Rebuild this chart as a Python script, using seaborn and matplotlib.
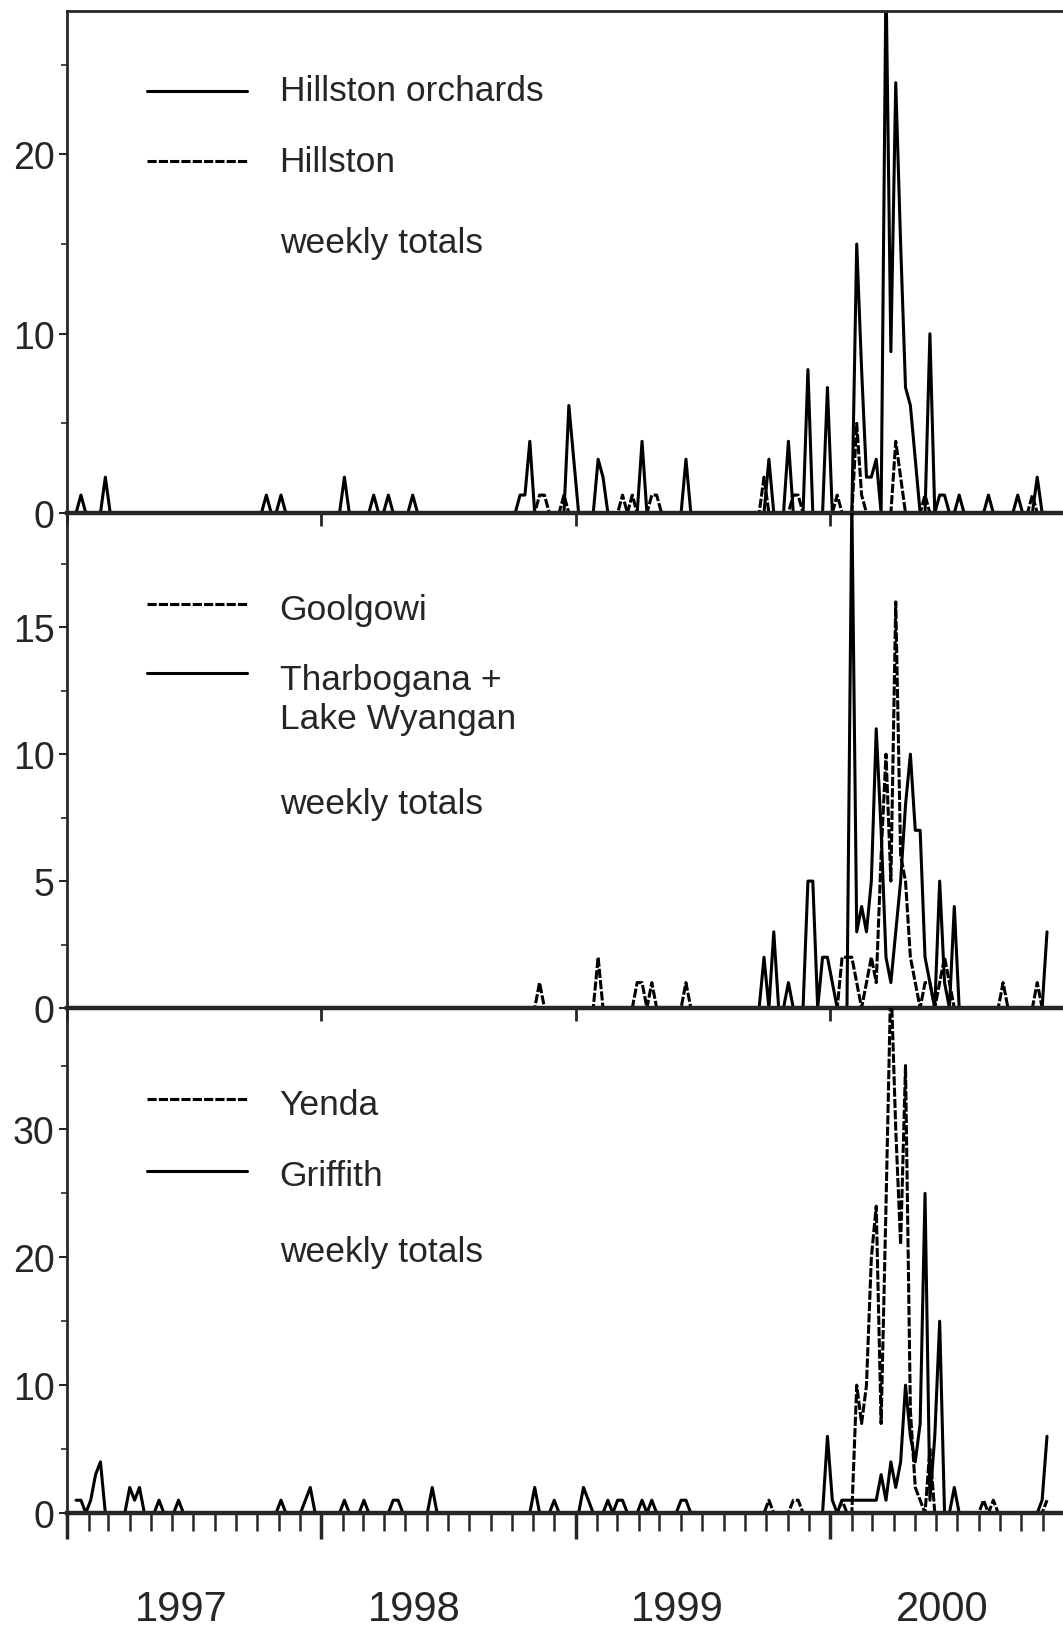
import numpy as np
import pandas as pd
import matplotlib
matplotlib.use("Agg")
import matplotlib.pyplot as plt
import matplotlib.dates as mdates
from matplotlib.ticker import MultipleLocator, NullFormatter, NullLocator
import seaborn as sns

sns.set_style("ticks")
plt.rcParams["font.family"] = ["Liberation Sans", "DejaVu Sans"]

# ---------------- data: weekly totals (sparse: week number -> count) ----------------
week_start = pd.Timestamp("1997-01-07")
n_weeks = 200

hillston_orch_wk = [2, 7, 40, 43, 56, 62, 65, 70, 92, 93, 94, 102, 103, 108, 109, 117, 126,
                    143, 147, 151, 155, 161, 162, 163, 164, 165, 167, 168, 169, 170, 171, 172, 173,
                    176, 178, 179, 182, 188, 194, 198]
hillston_orch_n = [1, 2, 1, 1, 2, 1, 1, 1, 1, 1, 4, 6, 3, 3, 2, 4, 3,
                   3, 4, 8, 7, 15, 8, 2, 2, 3, 30, 9, 24, 15, 7, 6, 3,
                   10, 1, 1, 1, 1, 1, 2]
hillston_wk = [96, 97, 101, 113, 115, 119, 120, 142, 148, 149, 157, 161, 162, 169, 170, 175, 197]
hillston_n = [1, 1, 1, 1, 1, 1, 1, 2, 1, 1, 1, 5, 1, 4, 2, 1, 1]

goolgowi_wk = [96, 108, 116, 117, 119, 126, 158, 159, 160, 161, 163, 164, 165, 166, 167, 168,
               169, 170, 171, 172, 173, 175, 176, 178, 179, 180, 191, 198]
goolgowi_n = [1, 2, 1, 1, 1, 1, 2, 2, 2, 1, 1, 2, 1, 6, 10, 5,
              16, 6, 5, 2, 1, 1, 1, 1, 2, 1, 1, 1]
tharbogana_wk = [142, 144, 147, 151, 152, 154, 155, 156, 160, 161, 162, 163, 164, 165, 166, 167,
                 168, 169, 170, 171, 172, 173, 174, 175, 176, 178, 179, 181, 200]
tharbogana_n = [2, 3, 1, 5, 5, 2, 2, 1, 20, 3, 4, 3, 5, 11, 7, 2,
                1, 3, 5, 8, 10, 7, 7, 2, 1, 5, 1, 4, 3]

yenda_wk = [143, 148, 149, 158, 161, 162, 163, 164, 165, 166, 167, 168, 169, 170, 171,
            172, 173, 174, 176, 187, 189, 200]
yenda_n = [1, 1, 1, 1, 10, 7, 10, 20, 24, 7, 24, 42, 30, 21, 35,
           8, 2, 1, 5, 1, 1, 1]
griffith_wk = [1, 2, 4, 5, 6, 12, 13, 14, 18, 22, 43, 48, 49, 56, 60, 66, 67, 74, 95, 99, 105,
               106, 110, 112, 113, 117, 119, 125, 126,
               155, 156, 158, 159, 160, 161, 162, 163, 164, 165, 166, 167, 168, 169, 170, 171,
               172, 173, 174, 175, 176, 177, 178, 179, 181, 199, 200]
griffith_n = [1, 1, 1, 3, 4, 2, 1, 2, 1, 1, 1, 1, 2, 1, 1, 1, 1, 2, 2, 1, 2,
              1, 1, 1, 1, 1, 1, 1, 1,
              6, 1, 1, 1, 1, 1, 1, 1, 1, 1, 3, 1, 4, 2, 4, 10,
              6, 4, 7, 25, 1, 6, 15, 0, 2, 1, 6]

year_labels = ["1997", "1998", "1999", "2000"]


def weekly(wk, n):
    s = np.zeros(n_weeks)
    s[np.asarray(wk) - 1] = n
    return s


weeks = np.arange(1, n_weeks + 1)
dates = week_start + pd.to_timedelta(7 * weeks, unit="D")

df = pd.DataFrame({
    "date": dates,
    "Hillston orchards": weekly(hillston_orch_wk, hillston_orch_n),
    "Hillston": weekly(hillston_wk, hillston_n),
    "Goolgowi": weekly(goolgowi_wk, goolgowi_n),
    "Tharbogana + Lake Wyangan": weekly(tharbogana_wk, tharbogana_n),
    "Yenda": weekly(yenda_wk, yenda_n),
    "Griffith": weekly(griffith_wk, griffith_n),
})

# ---------------- figure ----------------
W, H = 1063, 1631
fig = plt.figure(figsize=(W / 100, H / 100), dpi=100)
left = 67 / W
width = 1.0 - left + 0.002
ax1 = fig.add_axes([left, 1 - 514 / H, width, (514 - 12) / H])
ax2 = fig.add_axes([left, 1 - 1009 / H, width, (1009 - 514) / H])
ax3 = fig.add_axes([left, 1 - 1514 / H, width, (1514 - 1009) / H])

x0 = pd.Timestamp("1997-01-01")
x1 = x0 + pd.Timedelta(days=int(996 / 254 * 365.25))

dotted = (0, (3.0, 0.7))
LW = 2.2
panels = [
    (ax1, [("Hillston orchards", "-"), ("Hillston", dotted)], 28, 10, 5,
     [(0.841, 0.841, ["Hillston orchards"]), (0.701, 0.701, ["Hillston"])], 0.538),
    (ax2, [("Goolgowi", dotted), ("Tharbogana + Lake Wyangan", "-")], 19.5, 5, 2.5,
     [(0.816, 0.806, ["Goolgowi"]), (0.677, 0.663, ["Tharbogana +", "Lake Wyangan"])], 0.414),
    (ax3, [("Yenda", dotted), ("Griffith", "-")], 39.5, 10, 5,
     [(0.820, 0.808, ["Yenda"]), (0.677, 0.669, ["Griffith"])], 0.517),
]

for ax, series, ytop, ymaj, ymin_, legend, wt_y in panels:
    for name, ls in series:
        sns.lineplot(data=df, x="date", y=name, ax=ax, color="black", lw=LW,
                     linestyle=ls, legend=False)
    ax.set_xlim(x0, x1)
    ax.set_ylim(0, ytop)
    ax.set_xlabel("")
    ax.set_ylabel("")
    ax.yaxis.set_major_locator(MultipleLocator(ymaj))
    ax.yaxis.set_minor_locator(MultipleLocator(ymin_))
    ax.tick_params(axis="y", which="major", length=6, width=1.5, labelsize=27, pad=3,
                   direction="out")
    ax.tick_params(axis="y", which="minor", length=4, width=1.2, direction="out")
    ax.xaxis.set_major_locator(mdates.YearLocator())
    ax.xaxis.set_major_formatter(NullFormatter())
    for s in ["right", "top"]:
        ax.spines[s].set_visible(False)
    ax.spines["left"].set_linewidth(2.0)
    ax.spines["bottom"].set_linewidth(3.2)
    ax.patch.set_alpha(0)
    # legend-like annotation
    (ly1, ty1, t1), (ly2, ty2, t2) = legend
    ax.plot([0.080, 0.180], [ly1, ly1], transform=ax.transAxes, color="black", lw=LW,
            linestyle=series[0][1])
    ax.plot([0.080, 0.180], [ly2, ly2], transform=ax.transAxes, color="black", lw=LW,
            linestyle=series[1][1])
    for ty, lines in ((ty1, t1), (ty2, t2)):
        for k, txt in enumerate(lines):
            ax.text(0.213, ty - k * 0.079, txt, transform=ax.transAxes, fontsize=25.5,
                    ha="left", va="center")
    ax.text(0.213, wt_y, "weekly totals", transform=ax.transAxes, fontsize=25.5,
            ha="left", va="center")

ax1.spines["top"].set_visible(True)
ax1.spines["top"].set_linewidth(2.0)

for ax in (ax1, ax2):
    ax.xaxis.set_minor_locator(NullLocator())
    ax.tick_params(axis="x", which="major", length=9, width=2, direction="out")

ax3.xaxis.set_minor_locator(mdates.MonthLocator())
ax3.tick_params(axis="x", which="major", length=19, width=2.5, direction="out")
ax3.tick_params(axis="x", which="minor", length=13, width=1.8, direction="out")

label_pos = ["1997-06-14", "1998-05-14", "1999-05-26", "2000-06-09"]
for pos, lab in zip(label_pos, year_labels):
    ax3.text(mdates.date2num(pd.Timestamp(pos)), -0.19, lab,
             transform=ax3.get_xaxis_transform(), ha="center", va="center", fontsize=30)

fig.savefig("out.png", dpi=100)
